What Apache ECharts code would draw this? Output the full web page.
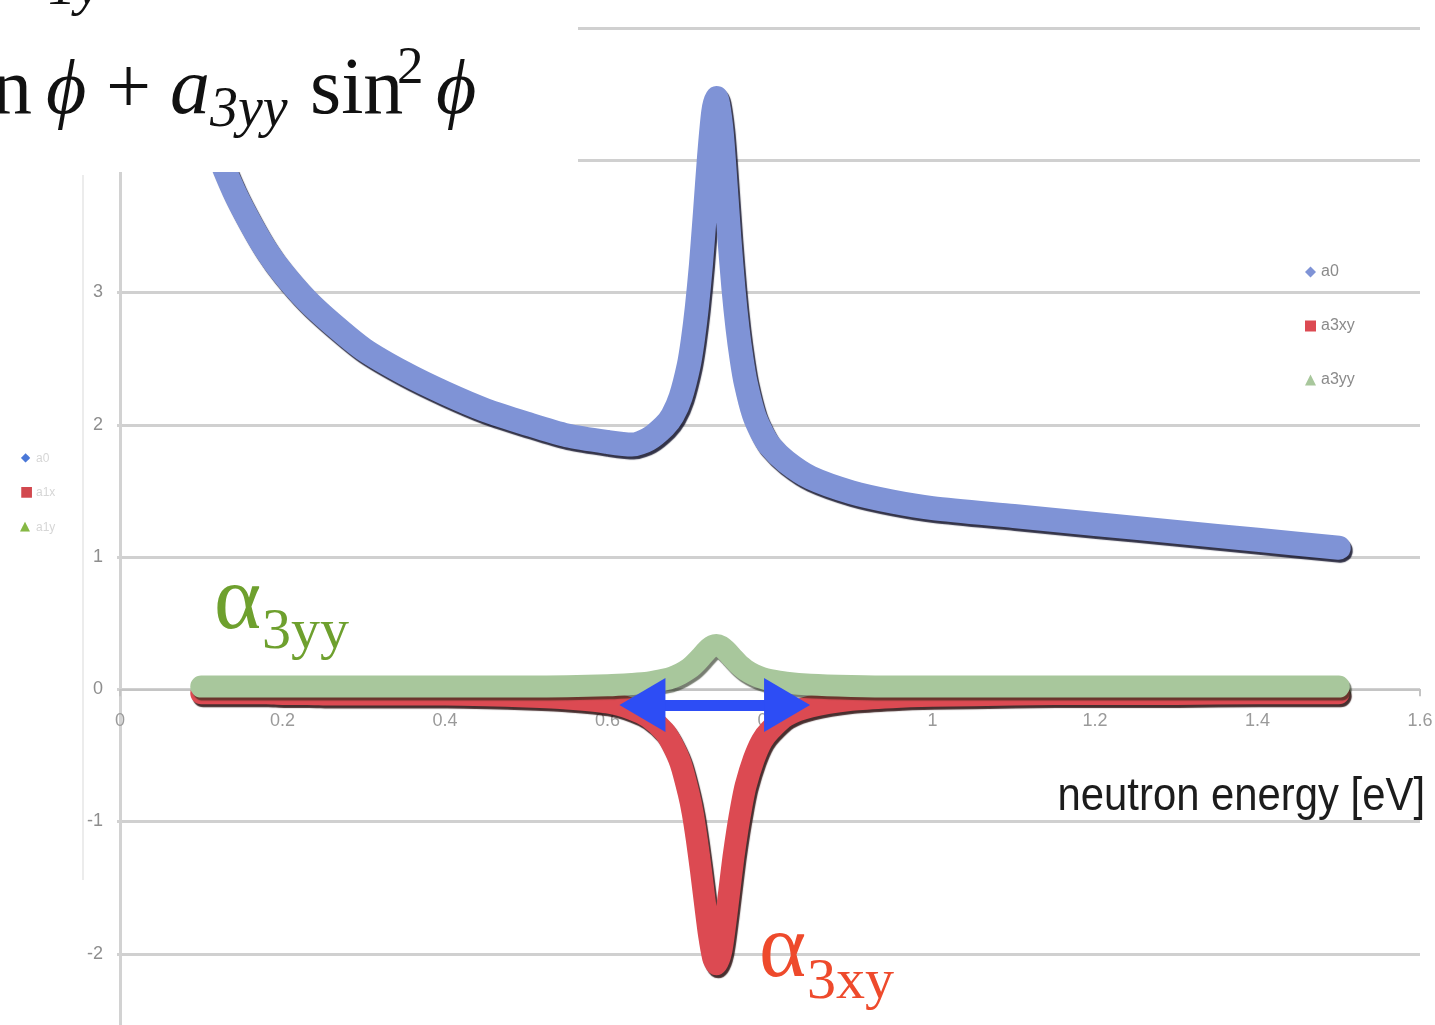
<!DOCTYPE html>
<html>
<head>
<meta charset="utf-8">
<script src="https://cdn.jsdelivr.net/npm/echarts@6/dist/echarts.min.js"></script>
<style>
  html, body { margin: 0; padding: 0; background: #fff; }
  #main { width: 1435px; height: 1025px; }
</style>
</head>
<body>
<div id="main"></div>
<script>
// neutron energy [eV]
var energy = [0.10, 0.12, 0.14, 0.16, 0.18, 0.20, 0.23, 0.26, 0.30, 0.35, 0.40, 0.45, 0.50, 0.55, 0.60,
              0.63, 0.65, 0.67, 0.68, 0.69, 0.70,
              0.705, 0.71, 0.715, 0.72, 0.725, 0.73, 0.734,
              0.74, 0.745, 0.75, 0.755, 0.76, 0.765, 0.77,
              0.78, 0.79, 0.80, 0.82, 0.85, 0.90, 0.95, 1.00,
              1.10, 1.20, 1.30, 1.40, 1.50];
var a0 = [4.46, 4.07, 3.77, 3.53, 3.32, 3.15, 2.94, 2.77, 2.57, 2.39, 2.24, 2.11, 2.01, 1.92, 1.87,
          1.85, 1.89, 1.99, 2.07, 2.21, 2.45,
          2.64, 2.89, 3.21, 3.61, 4.03, 4.36, 4.47,
          4.25, 3.85, 3.41, 3.03, 2.73, 2.50, 2.32,
          2.08, 1.94, 1.84, 1.72, 1.60, 1.49, 1.42, 1.37,
          1.31, 1.25, 1.19, 1.13, 1.07];
var a3xy = [-0.03, -0.03, -0.03, -0.03, -0.03, -0.035, -0.035, -0.04, -0.04, -0.04, -0.04, -0.045, -0.055, -0.07, -0.10,
            -0.15, -0.21, -0.32, -0.42, -0.56, -0.79,
            -0.94, -1.14, -1.37, -1.62, -1.86, -2.03, -2.08,
            -1.98, -1.77, -1.52, -1.27, -1.06, -0.88, -0.73,
            -0.53, -0.39, -0.31, -0.20, -0.13, -0.08, -0.06, -0.05,
            -0.04, -0.035, -0.035, -0.03, -0.03];
var a3yy = [0.02, 0.02, 0.02, 0.02, 0.02, 0.02, 0.02, 0.02, 0.02, 0.02, 0.02, 0.02, 0.02, 0.023, 0.03,
            0.04, 0.05, 0.073, 0.09, 0.117, 0.155,
            0.18, 0.21, 0.243, 0.278, 0.309, 0.33, 0.335,
            0.323, 0.297, 0.264, 0.23, 0.198, 0.17, 0.146,
            0.11, 0.086, 0.07, 0.05, 0.035, 0.025, 0.02, 0.02,
            0.02, 0.02, 0.02, 0.02, 0.02];

var names = ['a0', 'a3xy', 'a3yy'];
var colors = ['#7f93d6', '#dc4a52', '#a8c79c'];
var icons = ['diamond', 'rect', 'triangle'];

// width of the resonance marked by the blue arrow (arrow ends, eV) and its height
var arrowFrom = 0.643, arrowTo = 0.821, arrowLevel = -0.12;

function pairs(ys) {
    var out = [];
    for (var i = 0; i < energy.length; i++) {
        out.push([energy[i], ys[i]]);
    }
    return out;
}

function band(name, ys, color, z, width, shadow) {
    return {
        name: name,
        type: 'line',
        data: pairs(ys),
        z: z,
        showSymbol: false,
        smooth: 0.25,
        itemStyle: { color: color },
        lineStyle: {
            color: color,
            width: width,
            join: 'round',
            cap: 'round',
            shadowColor: shadow,
            shadowBlur: 1,
            shadowOffsetX: 2,
            shadowOffsetY: 3
        },
        emphasis: { disabled: true }
    };
}

var myChart = echarts.init(document.getElementById('main'));

var serif = '"Liberation Serif", "DejaVu Serif", serif';

var option = {
    animation: false,
    backgroundColor: '#fff',
    grid: [
        // main plot: y from -3 to 5, bottom part runs off the picture
        { left: 120, right: 15, top: 28, bottom: -61, outerBoundsMode: 'none', containLabel: false },
        // helper grid whose bottom edge sits on y = 0, carries the x tick labels
        { left: 120, right: 15, top: 28, height: 661, outerBoundsMode: 'none', containLabel: false }
    ],
    legend: {
        orient: 'vertical',
        left: 1300,
        top: 259,
        itemGap: 38,
        itemWidth: 11,
        itemHeight: 11,
        textStyle: { color: '#8a8a8a', fontSize: 16, fontFamily: 'Liberation Sans' },
        data: names.map(function (n, i) { return { name: n, icon: icons[i] }; })
    },
    xAxis: [
        {
            type: 'value',
            gridIndex: 0,
            min: 0,
            max: 1.6,
            interval: 0.2,
            axisLine: { onZero: true, lineStyle: { color: '#c4c4c4', width: 2 } },
            axisTick: { show: true, length: 7, lineStyle: { color: '#c4c4c4', width: 2 } },
            axisLabel: { show: false },
            splitLine: { show: false }
        },
        {
            type: 'value',
            gridIndex: 1,
            min: 0,
            max: 1.6,
            interval: 0.2,
            axisLine: { show: false },
            axisTick: { show: false },
            axisLabel: { color: '#9a9a9a', fontSize: 18, margin: 23, fontFamily: 'Liberation Sans' },
            splitLine: { show: false }
        }
    ],
    yAxis: [
        {
            type: 'value',
            gridIndex: 0,
            min: -3,
            max: 5,
            interval: 1,
            axisLine: { show: true, lineStyle: { color: '#d2d2d2', width: 3 } },
            axisTick: { show: true, length: 3, lineStyle: { color: '#d2d2d2', width: 3 } },
            axisLabel: { color: '#8e8e8e', fontSize: 18, margin: 17, fontFamily: 'Liberation Sans' },
            splitLine: { show: true, lineStyle: { color: '#d0d0d0', width: 3 } }
        },
        {
            type: 'value',
            gridIndex: 1,
            min: 0,
            max: 1,
            show: false
        }
    ],
    series: [
        band('a0', a0, colors[0], 3, 24, 'rgba(15,15,40,0.85)'),
        band('a3xy', a3xy, colors[1], 2, 22, 'rgba(40,10,10,0.85)'),
        band('a3yy', a3yy, colors[2], 4, 22, 'rgba(30,40,20,0.6)'),
        {
            name: 'width',
            type: 'line',
            data: [],
            z: 10,
            silent: true,
            markLine: {
                silent: true,
                symbol: ['triangle', 'triangle'],
                symbolSize: [54, 46],
                label: { show: false },
                lineStyle: { color: '#2d4df5', width: 11, type: 'solid' },
                emphasis: { disabled: true },
                data: [[{ coord: [arrowFrom, arrowLevel] }, { coord: [arrowTo, arrowLevel] }]]
            }
        }
    ],
    graphic: [
        // faint left legend and frame from the pasted slide
        { type: 'line', z: 1, shape: { x1: 83, y1: 175, x2: 83, y2: 880 }, style: { stroke: '#ececec', lineWidth: 2 } },
        { type: 'text', z: 1, x: 21, y: 458, style: { text: '◆', fill: '#4a78d8', font: '12px "DejaVu Sans"', verticalAlign: 'middle' } },
        { type: 'text', z: 1, x: 36, y: 459, style: { text: 'a0', fill: '#d6d6d6', font: '12px "Liberation Sans"', verticalAlign: 'middle' } },
        { type: 'text', z: 1, x: 20, y: 492, style: { text: '■', fill: '#d2484e', font: '14px "DejaVu Sans"', verticalAlign: 'middle' } },
        { type: 'text', z: 1, x: 36, y: 493, style: { text: 'a1x', fill: '#d6d6d6', font: '12px "Liberation Sans"', verticalAlign: 'middle' } },
        { type: 'text', z: 1, x: 20, y: 527, style: { text: '▲', fill: '#86b844', font: '13px "DejaVu Sans"', verticalAlign: 'middle' } },
        { type: 'text', z: 1, x: 36, y: 528, style: { text: 'a1y', fill: '#d6d6d6', font: '12px "Liberation Sans"', verticalAlign: 'middle' } },

        // formula overlay
        { type: 'rect', z: 100, shape: { x: 0, y: 0, width: 578, height: 172 }, style: { fill: '#fff' } },
        { type: 'text', z: 101, x: 48, y: -11, style: { text: '1y', fill: '#111', font: 'italic 56px ' + serif, verticalAlign: 'middle' } },
        { type: 'text', z: 101, x: 212, y: -40, style: { text: 'ϕ', fill: '#111', font: 'italic 78px ' + serif, verticalAlign: 'middle' } },
        { type: 'text', z: 101, x: -8, y: 92, style: { text: 'n', fill: '#111', font: '80px ' + serif, verticalAlign: 'middle' } },
        { type: 'text', z: 101, x: 46, y: 92, style: { text: 'ϕ', fill: '#111', font: 'italic 78px ' + serif, verticalAlign: 'middle' } },
        { type: 'text', z: 101, x: 106, y: 92, style: { text: '+', fill: '#111', font: '80px ' + serif, verticalAlign: 'middle' } },
        { type: 'text', z: 101, x: 170, y: 92, style: { text: 'a', fill: '#111', font: 'italic 80px ' + serif, verticalAlign: 'middle' } },
        { type: 'text', z: 101, x: 210, y: 111, style: { text: '3yy', fill: '#111', font: 'italic 56px ' + serif, verticalAlign: 'middle' } },
        { type: 'text', z: 101, x: 310, y: 92, style: { text: 'sin', fill: '#111', font: '80px ' + serif, verticalAlign: 'middle' } },
        { type: 'text', z: 101, x: 397, y: 69, style: { text: '2', fill: '#111', font: '53px ' + serif, verticalAlign: 'middle' } },
        { type: 'text', z: 101, x: 436, y: 92, style: { text: 'ϕ', fill: '#111', font: 'italic 78px ' + serif, verticalAlign: 'middle' } },

        // annotations
        { type: 'text', z: 20, x: 214, y: 604, style: { text: 'α', fill: '#6ea02e', font: '90px ' + serif, verticalAlign: 'middle' } },
        { type: 'text', z: 20, x: 262, y: 633, style: { text: '3yy', fill: '#6ea02e', font: '58px ' + serif, verticalAlign: 'middle' } },
        { type: 'text', z: 20, x: 759, y: 952, style: { text: 'α', fill: '#ee4a2c', font: '90px ' + serif, verticalAlign: 'middle' } },
        { type: 'text', z: 20, x: 807, y: 983, style: { text: '3xy', fill: '#ee4a2c', font: '58px ' + serif, verticalAlign: 'middle' } },
        { type: 'text', z: 20, x: 1425, y: 797, scaleX: 0.89, style: { text: 'neutron energy [eV]', fill: '#1c1c1c', font: '47px "Liberation Sans"', align: 'right', verticalAlign: 'middle' } }
    ]
};

myChart.setOption(option);
</script>
</body>
</html>
